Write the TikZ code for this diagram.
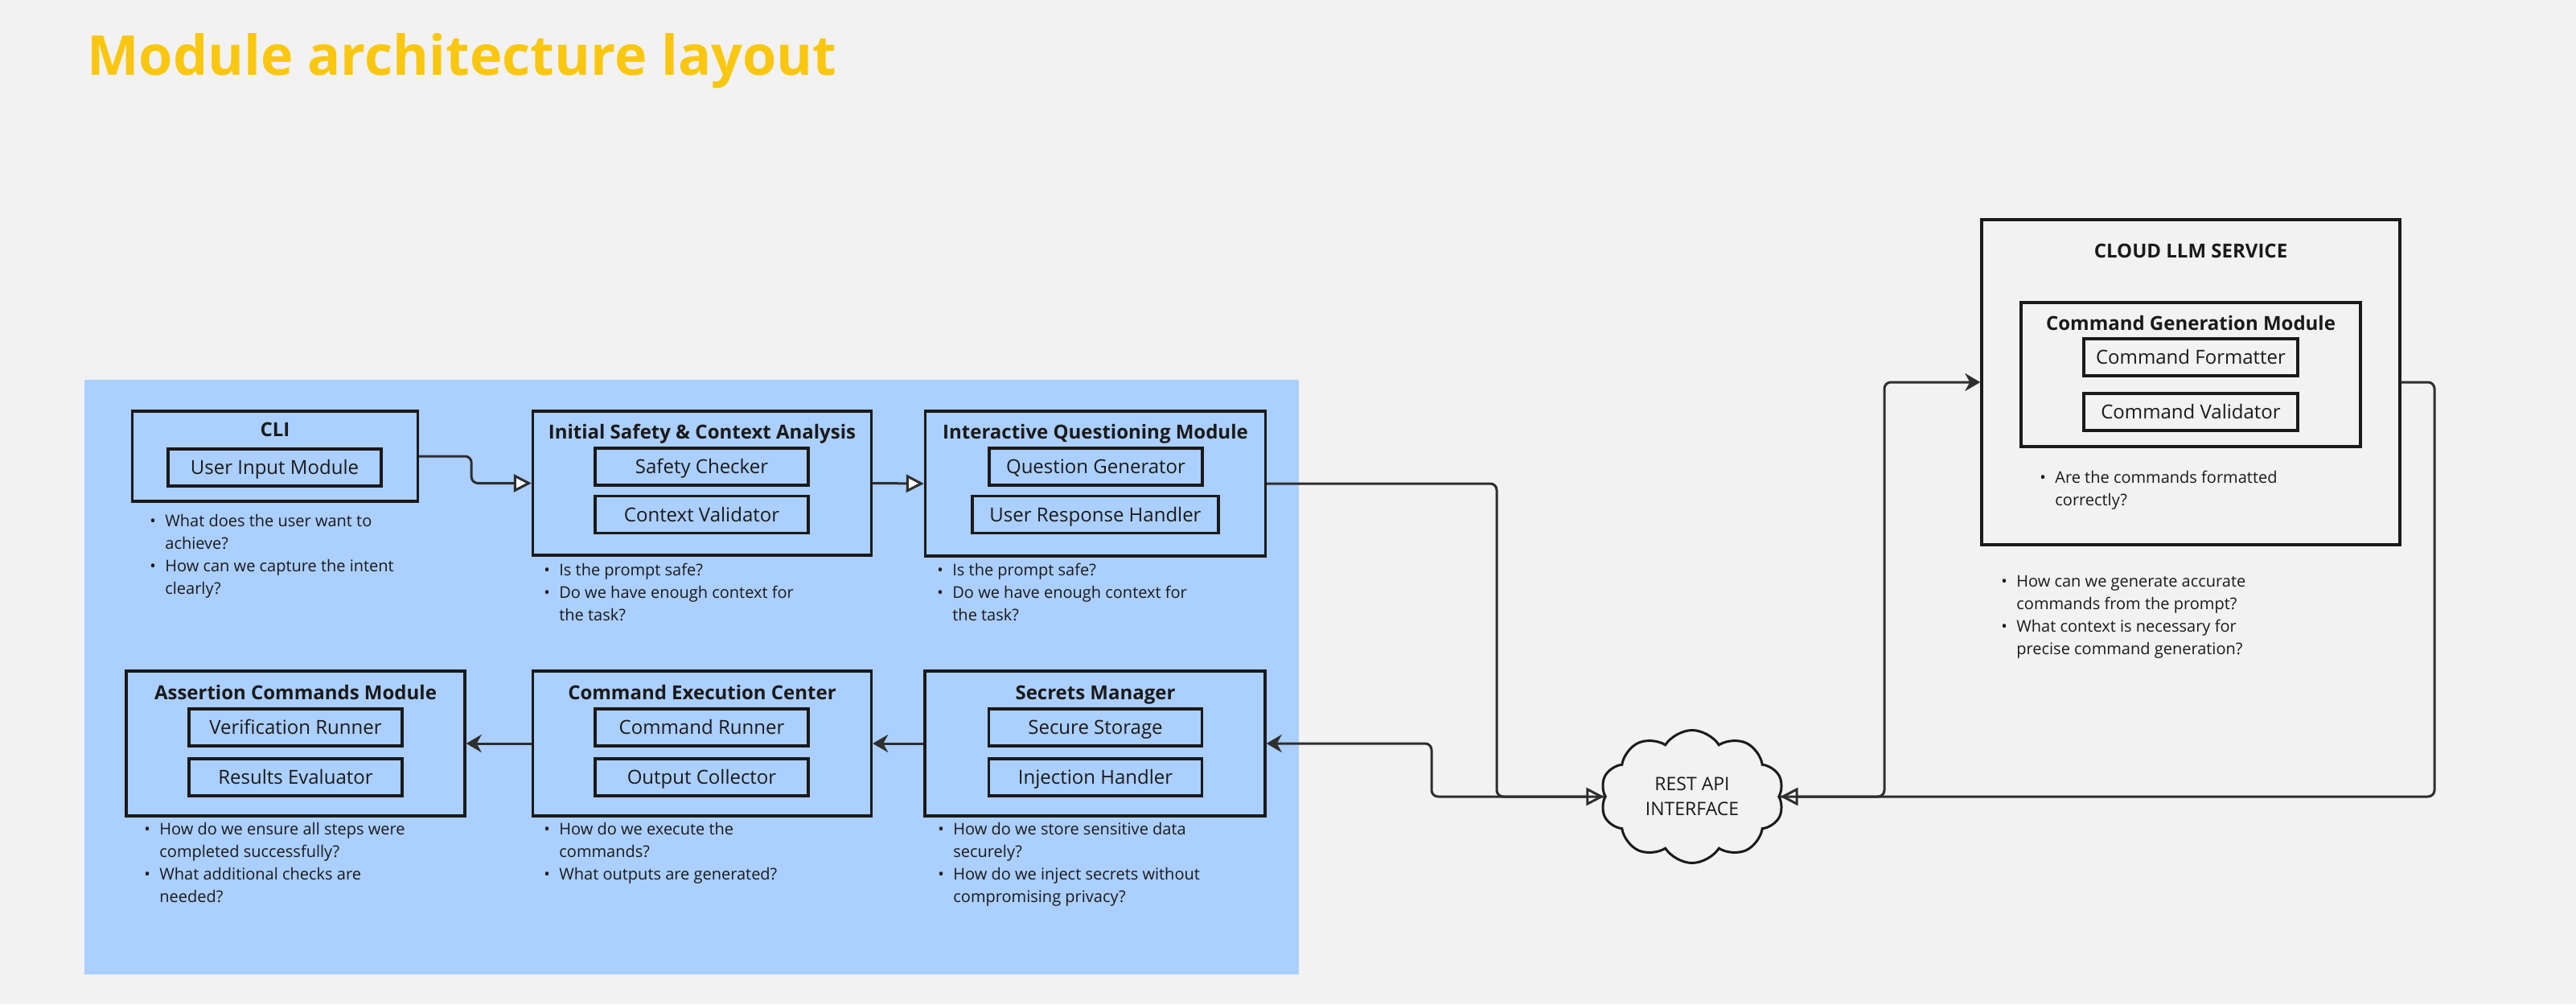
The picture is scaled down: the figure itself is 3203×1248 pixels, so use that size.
\documentclass[tikz,border=0pt]{standalone}
\usepackage{fontspec}
\setmainfont{Open Sans}
\usetikzlibrary{arrows.meta,shapes.symbols}
\definecolor{bg}{HTML}{F2F2F2}
\definecolor{blu}{HTML}{ABCFFE}
\definecolor{ink}{HTML}{1A1A1A}
\definecolor{wire}{HTML}{2E2E2E}
\definecolor{ttl}{HTML}{FAC710}
\newcommand\bul{•}
\newcommand\notelist[1]{\begin{tabular}[t]{@{}p{9.5pt}@{}l@{}}#1\end{tabular}}
\begin{document}
\begin{tikzpicture}[x=0.5pt,y=-0.5pt,
  outerbox/.style={draw=ink, line width=1.7pt, inner sep=0pt, minimum width=210.5pt, minimum height=90pt},
  part/.style={draw=ink, line width=1.6pt, inner sep=0pt, minimum width=132.5pt, minimum height=23pt,
    font=\fontsize{12pt}{14pt}\selectfont, text=ink, text height=8.6pt, text depth=0pt},
  boxtitle/.style={anchor=base, inner sep=0pt, text=ink, font=\fontsize{12pt}{14pt}\selectfont\bfseries},
  notes/.style={anchor=base west, inner sep=0pt, text=ink, font=\fontsize{10pt}{14pt}\selectfont},
  conn/.style={draw=wire, line width=1.5pt, rounded corners=4pt},
  opentip/.style={-{Triangle[length=11pt,width=11pt,fill=white]}},
  solidtip/.style={-{Stealth[length=9.5pt,width=11pt,inset=3pt]}}
]
\fill[bg] (0,0) rectangle (3203,1248);
\useasboundingbox (0,0) rectangle (3203,1248);

\node[anchor=base west, inner sep=0pt, text=ttl, font=\fontsize{34.2pt}{40pt}\selectfont\bfseries] (title) at (108,93) {Module architecture layout};

\node[fill=blu, anchor=north west, inner sep=0pt, minimum width=755pt, minimum height=369.5pt] (zone) at (105,472) {};

% top row
\node[outerbox, minimum width=177.5pt, minimum height=56pt] (cli) at (342,567) {};
\node[boxtitle] (clit) at (342,542) {CLI};
\node[part] (uim) at (341.5,581) {User Input Module};

\node[outerbox, minimum height=89.5pt] (safety) at (873,600.5) {};
\node[boxtitle] (safetyt) at (873,545) {Initial Safety \& Context Analysis};
\node[part] (sc) at (872.5,580) {Safety Checker};
\node[part] (cv) at (872.5,639.5) {Context Validator};

\node[outerbox, minimum width=211.5pt] (iq) at (1362,601) {};
\node[boxtitle] (iqt) at (1362,545) {Interactive Questioning Module};
\node[part] (qg) at (1362.5,580) {Question Generator};
\node[part, minimum width=153pt] (urh) at (1362,639.5) {User Response Handler};

% bottom row
\node[outerbox] (acm) at (367.5,924) {};
\node[boxtitle] (acmt) at (367.5,869) {Assertion Commands Module};
\node[part] (vr) at (367.5,904) {Verification Runner};
\node[part] (re) at (367.5,966) {Results Evaluator};

\node[outerbox] (cec) at (873,924) {};
\node[boxtitle] (cect) at (873,869) {Command Execution Center};
\node[part] (cr) at (872.5,904) {Command Runner};
\node[part] (oc) at (872.5,966) {Output Collector};

\node[outerbox, minimum width=211.5pt] (sm) at (1361.5,924) {};
\node[boxtitle] (smt) at (1362,869) {Secrets Manager};
\node[part] (ss) at (1362,904) {Secure Storage};
\node[part] (ih) at (1362,966) {Injection Handler};

% cloud service
\node[outerbox, minimum width=260pt, minimum height=202pt] (llm) at (2724,475) {};
\node[boxtitle] (llmt) at (2724,320) {CLOUD LLM SERVICE};
\node[outerbox, minimum width=211pt, minimum height=89.5pt] (cgm) at (2724,465.5) {};
\node[boxtitle] (cgmt) at (2724,410) {Command Generation Module};
\node[part, minimum width=133pt] (cf) at (2724,444) {Command Formatter};
\node[part, minimum width=133pt] (cval) at (2724,512) {Command Validator};

\node[cloud, draw=ink, line width=1.5pt, cloud puffs=10, cloud puff arc=115, aspect=1.38,
  minimum width=114pt, minimum height=82.5pt, inner sep=0pt, align=center, text=ink,
  font=\fontsize{11.5pt}{15.5pt}\selectfont] (rest) at (2104,990) {REST API\\INTERFACE};

% notes
\node[notes] (n1) at (186,654) {\notelist{\bul & What does the user want to\\ & achieve?\\ \bul & How can we capture the intent\\ & clearly?}};
\node[notes] (n2) at (676,715) {\notelist{\bul & Is the prompt safe?\\ \bul & Do we have enough context for\\ & the task?}};
\node[notes] (n3) at (1165,715) {\notelist{\bul & Is the prompt safe?\\ \bul & Do we have enough context for\\ & the task?}};
\node[notes] (n4) at (179,1037) {\notelist{\bul & How do we ensure all steps were\\ & completed successfully?\\ \bul & What additional checks are\\ & needed?}};
\node[notes] (n5) at (676,1037) {\notelist{\bul & How do we execute the\\ & commands?\\ \bul & What outputs are generated?}};
\node[notes] (n6) at (1166,1037) {\notelist{\bul & How do we store sensitive data\\ & securely?\\ \bul & How do we inject secrets without\\ & compromising privacy?}};
\node[notes] (n7) at (2536,600) {\notelist{\bul & Are the commands formatted\\ & correctly?}};
\node[notes] (n8) at (2488,729) {\notelist{\bul & How can we generate accurate\\ & commands from the prompt?\\ \bul & What context is necessary for\\ & precise command generation?}};

% connectors
\draw[conn, opentip] (cli.east) -- ++(65,0) |- (safety.west);
\draw[conn, opentip] (safety.east) -- (iq.west);
\draw[conn, opentip] (iq.east) -| (1861,990) -- (rest.west);
\draw[conn, solidtip] (rest.west) -- (1780,990) |- (sm.east);
\draw[conn, solidtip] (sm.west) -- (cec.east);
\draw[conn, solidtip] (cec.west) -- (acm.east);
\draw[conn, opentip] (llm.east) -| (3027,990) -- (rest.east);
\draw[conn, solidtip] (rest.east) -- (2343,990) |- (llm.west);
\end{tikzpicture}
\end{document}
